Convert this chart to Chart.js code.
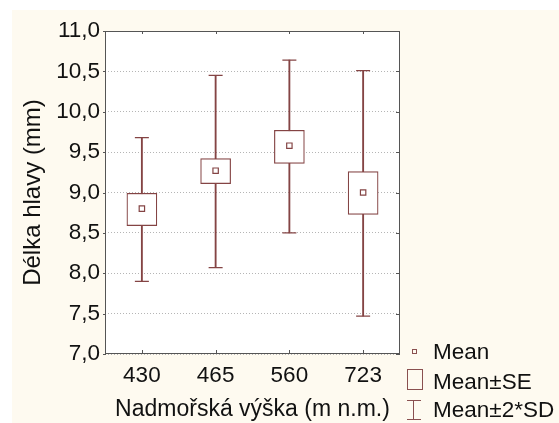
<!DOCTYPE html>
<html>
<head>
<meta charset="utf-8">
<script src="https://cdn.jsdelivr.net/npm/chart.js@4.4.1/dist/chart.umd.min.js"></script>
<style>
	html, body { margin: 0; padding: 0; background: #fff; }
	#wrap { position: relative; width: 559px; height: 423px; overflow: hidden; }
	#bg { position: absolute; left: 12px; top: 10px; right: 0; bottom: 0; background: #fefaf0; }
	#chart { position: absolute; left: 0; top: 0; }
	.lg { position: absolute; left: 433px; font: 22.5px Arial, 'Liberation Sans', sans-serif; color: #111; line-height: 26px; white-space: nowrap; }
	.ic { position: absolute; box-sizing: border-box; }
</style>
</head>
<body>
<div id="wrap">
	<div id="bg"></div>
	<canvas id="chart" width="559" height="423"></canvas>
	<!-- legend -->
	<div class="ic" style="left:412px;top:349px;width:5px;height:5px;border:1px solid #8a5050;"></div>
	<div class="lg" style="top:339px;">Mean</div>
	<div class="ic" style="left:407px;top:369px;width:16px;height:21px;border:1px solid #8a5050;"></div>
	<div class="lg" style="top:369px;">Mean±SE</div>
	<div class="ic" style="left:407px;top:400px;width:14px;height:1px;background:#8a5050;"></div>
	<div class="ic" style="left:413px;top:400px;width:1px;height:20px;background:#8a5050;"></div>
	<div class="ic" style="left:407px;top:419px;width:14px;height:1px;background:#8a5050;"></div>
	<div class="lg" style="top:397px;">Mean±2*SD</div>
</div>
<script>
	'use strict';

	// Altitude groups (m n.m.)
	const categories = ['430', '465', '560', '723'];

	// Head length (mm): mean, mean±SE, mean±2*SD
	const means = [8.80, 9.27, 9.58, 9.00];
	const seLow = [8.59, 9.11, 9.36, 8.73];
	const seHigh = [8.99, 9.42, 9.77, 9.26];
	const sdLow = [7.90, 8.07, 8.50, 7.47];
	const sdHigh = [9.68, 10.45, 10.64, 10.51];

	// Y axis range and step
	const yMin = 7.0;
	const yMax = 11.0;
	const yStep = 0.5;

	const markColor = '#844444';
	const textColor = '#111';
	const fontFamily = "Arial, 'Liberation Sans', sans-serif";
	const fontSize = 22.5;

	const seBoxes = categories.map(function(c, i) { return [seLow[i], seHigh[i]]; });
	const sdLines = categories.map(function(c, i) { return [sdLow[i], sdHigh[i]]; });

	// White plot area, frame and small inward ticks.
	const framePlugin = {
		id: 'frame',
		beforeDraw: function(chart) {
			const a = chart.chartArea;
			const ctx = chart.ctx;
			ctx.save();
			ctx.fillStyle = '#fff';
			ctx.fillRect(a.left, a.top, a.right - a.left, a.bottom - a.top);
			ctx.restore();
		},
		afterDraw: function(chart) {
			const a = chart.chartArea;
			const ctx = chart.ctx;
			const xs = chart.scales.x;
			const ys = chart.scales.y;
			ctx.save();
			ctx.strokeStyle = '#555';
			ctx.lineWidth = 1;
			ctx.strokeRect(Math.round(a.left) + 0.5, Math.round(a.top) + 0.5,
				Math.round(a.right - a.left) - 1, Math.round(a.bottom - a.top) - 1);
			ctx.beginPath();
			xs.ticks.forEach(function(t, i) {
				const px = Math.round(xs.getPixelForTick(i)) + 0.5;
				ctx.moveTo(px, a.bottom);
				ctx.lineTo(px, a.bottom - 4);
				ctx.moveTo(px, a.top);
				ctx.lineTo(px, a.top + 3);
			});
			ys.ticks.forEach(function(t, i) {
				const py = Math.round(ys.getPixelForTick(i)) + 0.5;
				ctx.moveTo(a.left - 2, py);
				ctx.lineTo(a.left + 1, py);
				ctx.moveTo(a.right, py);
				ctx.lineTo(a.right - 4, py);
			});
			ctx.stroke();
			ctx.restore();
		}
	};

	new Chart(document.getElementById('chart').getContext('2d'), {
		type: 'bar',
		data: {
			labels: categories,
			datasets: [
				{
					label: 'Mean',
					type: 'line',
					data: means,
					showLine: false,
					pointStyle: 'rect',
					pointRadius: 3.8,
					pointBackgroundColor: '#fff',
					pointBorderColor: markColor,
					pointBorderWidth: 1.2,
					order: 0
				},
				{
					label: 'cap high',
					type: 'line',
					data: sdHigh,
					showLine: false,
					pointStyle: 'line',
					pointRadius: 7,
					pointBorderColor: markColor,
					pointBorderWidth: 1.2,
					order: 1
				},
				{
					label: 'cap low',
					type: 'line',
					data: sdLow,
					showLine: false,
					pointStyle: 'line',
					pointRadius: 7,
					pointBorderColor: markColor,
					pointBorderWidth: 1.2,
					order: 1
				},
				{
					label: 'Mean±SE',
					data: seBoxes,
					grouped: false,
					barThickness: 30,
					backgroundColor: '#fff',
					borderColor: markColor,
					borderWidth: 1.2,
					borderSkipped: false,
					order: 2
				},
				{
					label: 'Mean±2*SD',
					data: sdLines,
					grouped: false,
					barThickness: 1.2,
					backgroundColor: markColor,
					borderWidth: 0,
					order: 3
				}
			]
		},
		options: {
			responsive: false,
			animation: false,
			layout: {
				padding: { top: 31, right: 159, left: 0, bottom: 0 }
			},
			plugins: {
				legend: { display: false },
				tooltip: { enabled: false }
			},
			scales: {
				x: {
					type: 'category',
					offset: true,
					grid: { display: false },
					border: { display: false },
					ticks: {
						color: textColor,
						padding: 0,
						font: { family: fontFamily, size: fontSize }
					},
					title: {
						display: true,
						text: 'Nadmořská výška (m n.m.)',
						color: textColor,
						padding: { top: 0, bottom: 0 },
						font: { family: fontFamily, size: 23 }
					},
					afterFit: function(scale) {
						scale.height = 69;
					}
				},
				y: {
					min: yMin,
					max: yMax,
					grid: {
						color: '#b5b5b5',
						drawTicks: false
					},
					border: { display: false, dash: [1, 2] },
					ticks: {
						stepSize: yStep,
						color: textColor,
						padding: 5,
						font: { family: fontFamily, size: fontSize },
						callback: function(v) {
							return Number(v).toFixed(1).replace('.', ',');
						}
					},
					title: {
						display: true,
						text: 'Délka hlavy (mm)',
						color: textColor,
						padding: { top: 19, bottom: 0 },
						font: { family: fontFamily, size: 24 }
					},
					afterFit: function(scale) {
						scale.width = 105;
					}
				}
			}
		},
		plugins: [framePlugin]
	});
</script>
</body>
</html>
